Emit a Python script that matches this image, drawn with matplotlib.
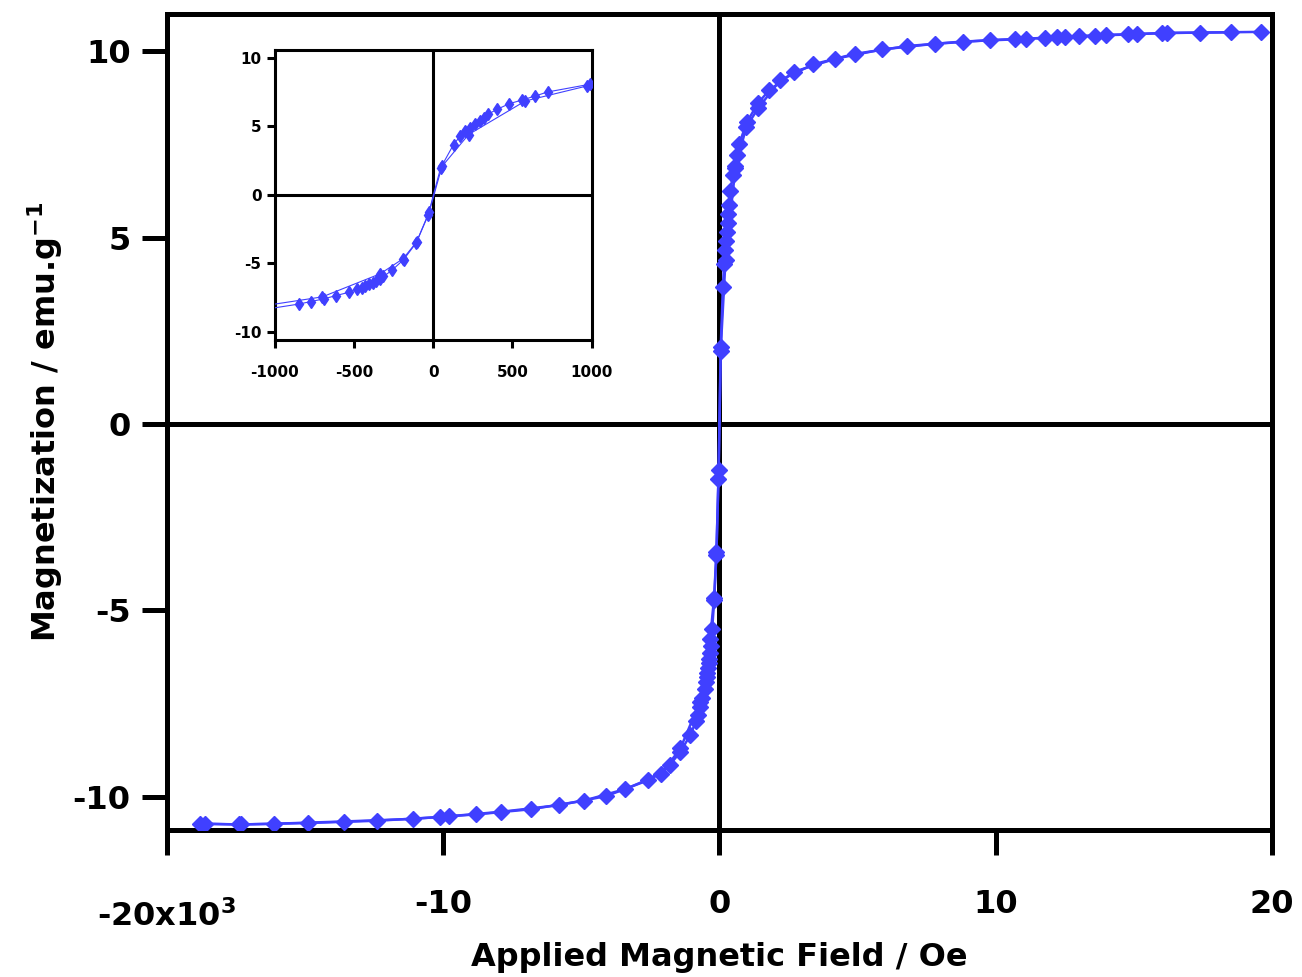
import numpy as np
import matplotlib.pyplot as plt

plt.rcParams['axes.unicode_minus'] = False

# ascending branch (field in Oe, magnetization in emu/g)
field_up = [-18600, -17300, -14900, -12400, -10100, -7900, -5800, -4100, -2600, -1800,
            -1410, -1050, -845, -772, -692, -612, -530, -478, -450, -429, -404, -381,
            -360, -339, -314, -261, -187, -107, -32, 46, 128, 170, 202, 233, 265, 297,
            322, 343, 402, 481, 560, 644, 721, 990, 1400, 1800, 2700, 4200, 5900, 7800,
            9800, 11100, 12200, 13000, 14000, 15100, 16200, 18500]
mag_up = [-10.72, -10.74, -10.70, -10.64, -10.54, -10.40, -10.22, -9.98, -9.56, -9.15,
          -8.79, -8.34, -7.97, -7.79, -7.60, -7.35, -7.11, -6.91, -6.79, -6.67, -6.54, -6.42,
          -6.30, -6.13, -5.96, -5.51, -4.73, -3.50, -1.47, 1.96, 3.68, 4.29, 4.66, 4.90, 5.15, 5.39,
          5.64, 5.88, 6.25, 6.67, 6.93, 7.23, 7.52, 8.09, 8.61, 8.95, 9.45, 9.80, 10.05, 10.20,
          10.30, 10.34, 10.37, 10.40, 10.44, 10.46, 10.49, 10.51]

# descending branch
field_down = [19600, 17400, 16000, 14800, 13600, 12500, 11800, 10700, 8800, 6800, 4900,
              3400, 2200, 1400, 970, 580, 223, 55, -25, -105, -190, -334, -700, -1410,
              -2100, -3400, -4900, -6800, -8800, -9800, -11100, -13600, -16100, -17400, -18800]
mag_down = [10.52, 10.50, 10.49, 10.45, 10.42, 10.39, 10.36, 10.32, 10.26, 10.14, 9.93,
            9.65, 9.22, 8.47, 7.96, 6.86, 4.41, 2.08, -1.23, -3.43, -4.66, -5.76, -7.45, -8.70,
            -9.38, -9.79, -10.10, -10.33, -10.47, -10.52, -10.59, -10.66, -10.72, -10.74, -10.72]

main_xticks = [-20000, -10000, 0, 10000, 20000]
main_xlabels = ['', '-10', '0', '10', '20']
main_yticks = [-10, -5, 0, 5, 10]
inset_xticks = [-1000, -500, 0, 500, 1000]
inset_yticks = [-10, -5, 0, 5, 10]

blue = '#4040FF'

fig = plt.figure(figsize=(13.02, 9.77), dpi=100)
ax = fig.add_axes([0.128, 0.150, 0.849, 0.8357])

ax.axhline(0, color='black', lw=3.6, zorder=1)
ax.axvline(0, color='black', lw=3.6, zorder=1)
for h, m in [(field_up, mag_up), (field_down, mag_down)]:
    ax.plot(h, m, color=blue, lw=1.8, marker='D', markersize=8.5, zorder=3)

ax.set_xlim(-20000, 20000)
ax.set_ylim(-10.9, 11.0)
ax.set_xticks(main_xticks)
ax.set_xticklabels(main_xlabels)
ax.set_yticks(main_yticks)
for s in ax.spines.values():
    s.set_linewidth(3.6)
ax.tick_params(axis='both', direction='out', length=18, width=3.6, labelsize=23)
ax.tick_params(axis='x', pad=24)
ax.tick_params(axis='y', pad=8)
for lab in ax.get_xticklabels() + ax.get_yticklabels():
    lab.set_fontweight('bold')
ax.text(-20000, -0.085, r'-20x10$^{\mathbf{3}}$', transform=ax.get_xaxis_transform(),
        ha='center', va='top', fontsize=23, fontweight='bold')
ax.set_xlabel('Applied Magnetic Field / Oe', fontsize=23, fontweight='bold', labelpad=16)
ax.set_ylabel(r'Magnetization / emu.g$^{\mathbf{-1}}$', fontsize=23, fontweight='bold')
ax.yaxis.set_label_coords(-0.092, 0.5)

# inset: low field region
ins = fig.add_axes([0.211, 0.652, 0.2435, 0.297])
ins.axhline(0, color='black', lw=2.2, zorder=1)
ins.axvline(0, color='black', lw=2.2, zorder=1)
for h, m in [(field_up, mag_up), (field_down, mag_down)]:
    ins.plot(h, m, color=blue, lw=0.8, marker='d', markersize=6, zorder=3)
ins.set_xlim(-1000, 1000)
ins.set_ylim(-10.6, 10.6)
ins.set_xticks(inset_xticks)
ins.set_yticks(inset_yticks)
for s in ins.spines.values():
    s.set_linewidth(2.2)
ins.tick_params(axis='both', direction='out', length=6, width=2.2, labelsize=11)
ins.tick_params(axis='x', pad=12)
for lab in ins.get_xticklabels() + ins.get_yticklabels():
    lab.set_fontweight('bold')

fig.savefig('out.png', dpi=100)
